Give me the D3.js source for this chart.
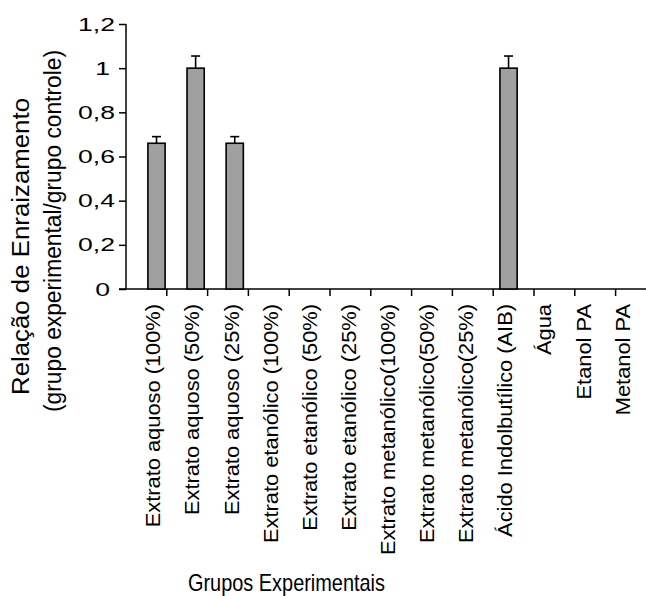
<!DOCTYPE html>
<html>
<head>
<meta charset="utf-8">
<script src="https://cdn.jsdelivr.net/npm/d3@7"></script>
<style>
  html, body { margin: 0; padding: 0; background: #fff; }
  svg { display: block; }
  text { font-family: "Liberation Sans", Arial, sans-serif; fill: #000; }
</style>
</head>
<body>
<svg id="chart" width="646" height="596"></svg>
<script>
const categories = [
  "Extrato aquoso (100%)",
  "Extrato aquoso (50%)",
  "Extrato aquoso (25%)",
  "Extrato etanólico (100%)",
  "Extrato etanólico (50%)",
  "Extrato etanólico (25%)",
  "Extrato metanólico(100%)",
  "Extrato metanólico(50%)",
  "Extrato metanólico(25%)",
  "Ácido Indolbutílico (AIB)",
  "Água",
  "Etanol PA",
  "Metanol PA"
];
const values = [0.66, 1.0, 0.66, 0, 0, 0, 0, 0, 0, 1.0, 0, 0, 0];
const errors = [0.03, 0.055, 0.03, 0, 0, 0, 0, 0, 0, 0.055, 0, 0, 0];
const yTicks = [0, 0.2, 0.4, 0.6, 0.8, 1, 1.2];
const yTitle = ["Relação de Enraizamento", "(grupo experimental/grupo controle)"];
const xTitle = "Grupos Experimentais";

(function () {
const svg = d3.select("#chart");
const mLeft = 126, mTop = 24, mBottom = 289, step = 40.8;
const mRight = mLeft + step * categories.length;

const x = d3.scaleBand().domain(categories).range([mLeft, mRight]).padding(0.56);
const xb = d3.scaleLinear().domain([0, categories.length]).range([mLeft, mRight]);
const y = d3.scaleLinear().domain([0, 1.2]).range([mBottom, mTop]);

// Y axis
const fmt = d => d3.format("")(d).replace(".", ",");
const yAxis = d3.axisLeft(y).tickValues(yTicks).tickSize(7).tickFormat(fmt);
const gy = svg.append("g").attr("transform", `translate(${mLeft},0)`).call(yAxis);
gy.select(".domain").attr("stroke", "#000").attr("stroke-width", 1.5).attr("d", `M0,${mTop}V${mBottom}`);
gy.selectAll(".tick line").attr("stroke", "#000").attr("stroke-width", 1.5);
const sx = 1.4;
gy.selectAll(".tick text")
  .attr("transform", `scale(${sx},1)`)
  .attr("x", d => (fmt(d).length > 1 ? -11 : -16) / sx)
  .attr("font-size", 19)
  .style("font-family", "Liberation Sans, Arial, sans-serif")
  .style("fill", "#000");

// X axis line and boundary ticks
const gx = svg.append("g");
gx.append("line").attr("x1", mLeft - 7).attr("x2", mRight).attr("y1", mBottom).attr("y2", mBottom)
  .attr("stroke", "#000").attr("stroke-width", 1.5);
gx.selectAll("line.tk").data(d3.range(1, categories.length + 1)).join("line")
  .attr("class", "tk")
  .attr("x1", d => xb(d)).attr("x2", d => xb(d))
  .attr("y1", mBottom).attr("y2", mBottom + 7)
  .attr("stroke", "#000").attr("stroke-width", 1.5);

// Bars
svg.append("g").selectAll("rect").data(values.map((v, i) => ({c: categories[i], v})).filter(d => d.v > 0))
  .join("rect")
  .attr("x", d => x(d.c)).attr("width", x.bandwidth())
  .attr("y", d => y(d.v)).attr("height", d => y(0) - y(d.v))
  .attr("fill", "#a0a0a0").attr("stroke", "#000").attr("stroke-width", 1.6);

// Error bars
const eb = values.map((v, i) => ({c: categories[i], v, e: errors[i]})).filter(d => d.e > 0);
const ge = svg.append("g").attr("stroke", "#000").attr("stroke-width", 1.6);
ge.selectAll("line.v").data(eb).join("line").attr("class", "v")
  .attr("x1", d => x(d.c) + x.bandwidth() / 2).attr("x2", d => x(d.c) + x.bandwidth() / 2)
  .attr("y1", d => y(d.v)).attr("y2", d => y(d.v + d.e));
ge.selectAll("line.c").data(eb).join("line").attr("class", "c")
  .attr("x1", d => x(d.c) + x.bandwidth() / 2 - 4.5).attr("x2", d => x(d.c) + x.bandwidth() / 2 + 4.5)
  .attr("y1", d => y(d.v + d.e)).attr("y2", d => y(d.v + d.e));

// X category labels
svg.append("g").selectAll("text").data(categories).join("text")
  .attr("transform", d => `translate(${x(d) + x.bandwidth() / 2 - 3},304) rotate(-90) scale(1.12,1)`)
  .attr("text-anchor", "end").attr("dy", "0.35em")
  .attr("font-size", 19.5)
  .text(d => d);

// Y title
svg.append("text").attr("transform", "translate(29,246.5) rotate(-90)")
  .attr("text-anchor", "middle").attr("font-size", 23)
  .attr("textLength", 297).attr("lengthAdjust", "spacingAndGlyphs")
  .text(yTitle[0]);
svg.append("text").attr("transform", "translate(61,231) rotate(-90)")
  .attr("text-anchor", "middle").attr("font-size", 23)
  .attr("textLength", 362).attr("lengthAdjust", "spacingAndGlyphs")
  .text(yTitle[1]);

// X title
svg.append("text").attr("x", 188).attr("y", 591)
  .attr("font-size", 24).attr("textLength", 197).attr("lengthAdjust", "spacingAndGlyphs")
  .text(xTitle);
})();
</script>
</body>
</html>
